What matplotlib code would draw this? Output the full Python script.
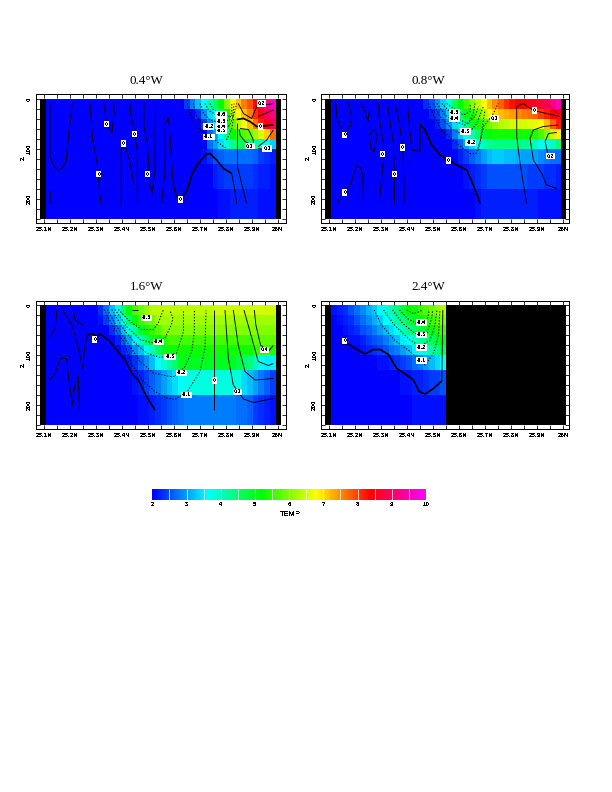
import numpy as np
import matplotlib
matplotlib.use('Agg')
import matplotlib.pyplot as plt
from matplotlib.colors import LinearSegmentedColormap, Normalize

plt.rcParams['text.antialiased'] = False
plt.rcParams['font.family'] = ['Liberation Sans', 'DejaVu Sans']

# cell edges
lat_edges = [25.086, 25.108, 25.130, 25.152, 25.174, 25.197, 25.219, 25.241, 25.263, 25.285,
             25.307, 25.329, 25.351, 25.373, 25.395, 25.417, 25.440, 25.462, 25.484, 25.506,
             25.528, 25.550, 25.572, 25.594, 25.616, 25.639, 25.661, 25.683, 25.705, 25.727,
             25.749, 25.771, 25.793, 25.815, 25.838, 25.860, 25.882, 25.904, 25.926, 25.948,
             25.970, 25.993, 26.012]
depth_edges = [0, 20, 40, 60, 80, 100, 130, 180, 240]

# temperature, one list per depth layer, 40 cells south to north
temp_04 = [
    [2.0]*24 + [2.4, 2.8, 3.2, 3.6, 4.1, 4.6, 5.2, 6.0, 6.8, 7.2, 7.6, 7.9, 8.4, 8.8, 9.2, 9.6],
    [2.0]*26 + [2.3, 2.9, 3.4, 3.9, 4.5, 5.2, 6.4, 6.8, 7.2, 7.6, 8.1, 8.5, 8.9, 9.2],
    [2.0]*27 + [2.4, 2.9, 3.4, 4.2, 5.0, 5.8, 6.4, 6.8, 7.2, 7.7, 8.2, 8.6, 8.9],
    [2.0]*28 + [2.6, 3.0, 3.6, 4.3, 5.2, 5.5, 5.7, 5.9, 6.2, 6.6, 7.1, 7.7],
    [2.0]*28 + [2.7, 3.0, 3.4, 3.9, 4.3, 4.6, 4.7, 4.5, 4.2, 4.0, 3.6, 3.3],
    [2.0]*27 + [2.1, 2.3, 2.5, 2.6, 2.7, 2.7, 2.7, 2.7, 2.7, 2.6, 2.4, 2.3, 2.2],
    [2.0]*29 + [2.2, 2.3, 2.4, 2.4, 2.4, 2.4, 2.4, 2.3, 2.2, 2.2, 2.1],
    [2.0]*30 + [2.1, 2.1, 2.2, 2.2, 2.2, 2.2, 2.2, 2.1, 2.1, 2.1],
]
temp_08 = [
    [2.0]*16 + [2.3, 2.5, 2.9, 3.3, 3.8, 4.6, 5.2, 5.6, 6.0, 6.4, 6.8, 7.2, 7.5, 7.8, 8.1, 8.3, 8.4, 8.4, 8.5, 8.6, 8.7, 8.9, 9.2, 9.5],
    [2.0]*17 + [2.2, 2.4, 2.8, 3.3, 3.8, 4.5, 5.1, 5.4, 5.8, 6.3, 6.7, 7.0, 7.2, 7.3, 7.4, 7.5, 7.6, 7.7, 7.8, 8.0, 8.2, 8.4, 8.6],
    [2.0]*18 + [2.2, 2.5, 2.9, 3.4, 3.9, 4.4, 5.0, 5.3, 5.6, 5.9, 6.1, 6.3, 6.4, 6.5, 6.5, 6.5, 6.6, 6.7, 6.8, 7.2, 7.8, 8.2],
    [2.0]*20 + [2.3, 2.8, 3.3, 3.7, 4.1, 4.6, 5.0, 5.2, 5.3, 5.3, 5.3, 5.3, 5.3, 5.3, 5.3, 5.4, 5.6, 6.0, 6.5, 6.9],
    [2.0]*21 + [2.3, 2.6, 3.0, 3.4, 3.7, 4.1, 4.3, 4.4, 4.4, 4.4, 4.4, 4.4, 4.3, 4.2, 4.0, 3.7, 3.8, 4.0, 4.4],
    [2.0]*22 + [2.2, 2.4, 2.6, 2.8, 3.0, 3.2, 3.3, 3.3, 3.2, 3.2, 3.1, 3.0, 3.0, 3.0, 2.9, 2.8, 2.7, 2.7],
    [2.0]*23 + [2.1, 2.2, 2.3, 2.4, 2.5, 2.5, 2.5, 2.5, 2.5, 2.5, 2.5, 2.4, 2.4, 2.4, 2.3, 2.3, 2.2],
    [2.0]*25 + [2.1, 2.2, 2.2, 2.2, 2.2, 2.2, 2.2, 2.2, 2.2, 2.2, 2.2, 2.1, 2.1, 2.1, 2.1],
]
temp_16 = [
    [2.0]*9 + [2.3, 2.7, 3.2, 3.8, 4.5, 5.2, 5.6, 5.9, 6.1] + [6.4]*11 + [6.5]*11,
    [2.0]*9 + [2.1, 2.4, 2.8, 3.3, 3.9, 4.5, 5.1, 5.5, 5.8, 5.9] + [6.2]*21,
    [2.0]*11 + [2.3, 2.7, 3.2, 3.8, 4.3, 4.9, 5.3, 5.5, 5.7] + [6.0]*20,
    [2.0]*12 + [2.2, 2.6, 3.0, 3.5, 4.0, 4.5, 5.0, 5.2, 5.4] + [5.6]*15 + [5.8]*4,
    [2.0]*13 + [2.2, 2.4, 2.9, 3.2, 3.7, 4.1, 4.6, 5.0] + [5.3]*15 + [5.5, 5.5, 5.5, 5.4],
    [2.0]*14 + [2.1, 2.3, 2.6, 2.9, 3.2, 3.6, 3.9, 4.2, 4.5] + [5.0]*10 + [4.8, 4.6, 4.4, 4.0, 3.7, 3.5, 3.5],
    [2.0]*15 + [2.1, 2.2, 2.4, 2.6, 2.8, 3.0, 3.2, 3.4, 3.6, 3.7] + [3.8]*9 + [3.4, 3.2, 3.0, 2.8, 2.6, 2.4],
    [2.0]*16 + [2.1, 2.1, 2.2, 2.3, 2.4, 2.5, 2.6, 2.7] + [2.8]*9 + [2.7, 2.7, 2.6, 2.4, 2.3, 2.2, 2.1],
]
land = [np.nan]*20
temp_24 = [
    [2.1, 2.2, 2.3, 2.5, 2.7, 2.9, 3.1, 3.3, 3.6, 3.9, 4.1, 4.4, 4.8, 5.2, 5.3, 5.5, 5.7, 5.9, 6.1, 6.3] + land,
    [2.0, 2.1, 2.2, 2.3, 2.5, 2.7, 2.9, 3.1, 3.3, 3.6, 3.8, 4.1, 4.4, 4.7, 5.0, 5.2, 5.4, 5.6, 5.8, 6.0] + land,
    [2.0, 2.0, 2.1, 2.2, 2.3, 2.5, 2.6, 2.8, 3.0, 3.2, 3.4, 3.7, 4.0, 4.3, 4.5, 4.8, 5.0, 5.2, 5.4, 5.6] + land,
    [2.0, 2.0, 2.0, 2.1, 2.1, 2.2, 2.4, 2.5, 2.6, 2.8, 3.0, 3.2, 3.5, 3.7, 4.0, 4.2, 4.4, 4.7, 4.9, 5.2] + land,
    [2.0]*5 + [2.1, 2.2, 2.3, 2.4, 2.5, 2.7, 2.8, 3.0, 3.2, 3.5, 3.7, 3.9, 4.2, 4.4, 4.6] + land,
    [2.0]*8 + [2.1, 2.1, 2.2, 2.3, 2.4, 2.5, 2.7, 2.8, 3.0, 3.2, 3.4, 3.6] + land,
    [2.0]*12 + [2.1, 2.1, 2.2, 2.2, 2.3, 2.4, 2.4, 2.5] + land,
    [2.0]*14 + [2.1]*6 + land,
]

# velocity contours: (style, latitudes, depths)
lines_04 = [
    ('thin', [25.123, 25.123, 25.136, 25.149, 25.168, 25.185, 25.194, 25.209], [9, 115, 132, 142, 139, 125, 75, 9]),
    ('thin', [25.123, 25.127], [185, 209]),
    ('thin', [25.277, 25.287, 25.305, 25.318], [9, 82, 129, 209]),
    ('thin', [25.331, 25.341, 25.361, 25.370, 25.370], [11, 49, 69, 29, 9]),
    ('thin', [25.397, 25.397, 25.412, 25.429, 25.441, 25.447], [209, 102, 92, 122, 155, 172]),
    ('thin', [25.459, 25.459, 25.450, 25.434, 25.431], [209, 102, 69, 29, 9]),
    ('thin', [25.485, 25.485, 25.498, 25.508, 25.516, 25.527, 25.529], [9, 55, 89, 169, 190, 142, 9]),
    ('thin', [25.553, 25.566, 25.567, 25.580, 25.585, 25.598], [209, 142, 49, 37, 75, 175]),
    ('thick', [25.598, 25.611, 25.626, 25.649, 25.671, 25.694, 25.726, 25.739, 25.765, 25.791, 25.823], [175, 194, 199, 185, 149, 129, 110, 109, 122, 139, 149]),
    ('thin', [25.823, 25.832, 25.842], [149, 175, 209]),
    ('thin', [25.845, 25.845, 25.861, 25.880], [49, 135, 169, 209]),
    ('dash', [25.652, 25.669, 25.701, 25.739, 25.791, 25.803], [9, 39, 62, 75, 95, 99]),
    ('dash', [25.675, 25.688, 25.720, 25.752], [9, 35, 52, 57]),
    ('dash', [25.701, 25.714, 25.739, 25.762], [9, 29, 42, 45]),
    ('dash', [25.720, 25.733, 25.759], [9, 22, 31]),
    ('dash', [25.739, 25.752, 25.762], [9, 21, 23]),
    ('dash', [25.791, 25.810, 25.827, 25.832], [29, 35, 32, 9]),
    ('dash', [25.791, 25.814, 25.823, 25.823], [45, 42, 25, 9]),
    ('dash', [25.791, 25.816, 25.832, 25.842], [62, 52, 29, 9]),
    ('dash', [25.803, 25.823, 25.829, 25.827], [82, 59, 42, 32]),
    ('thin', [25.848, 25.868, 25.900, 25.919, 25.983], [9, 29, 39, 15, 9]),
    ('thick', [25.842, 25.868, 25.893, 25.919, 25.983], [41, 39, 45, 55, 52]),
    ('thin', [25.855, 25.887, 25.904, 25.910, 25.874, 25.855, 25.852], [59, 61, 79, 95, 85, 72, 61]),
    ('thin', [25.925, 25.958, 25.983], [95, 82, 62]),
    ('thin', [25.925, 25.983], [99, 104]),
    ('thin', [25.925, 25.983], [35, 22]),
]
lines_08 = [
    ('thin', [25.127, 25.129, 25.148, 25.161, 25.181, 25.187, 25.174], [9, 35, 62, 70, 55, 35, 9]),
    ('thin', [25.132, 25.142, 25.161, 25.181, 25.204, 25.219, 25.229, 25.232], [209, 195, 182, 175, 135, 137, 149, 209]),
    ('thin', [25.222, 25.238, 25.249, 25.255], [9, 25, 45, 22]),
    ('thin', [25.264, 25.255, 25.260, 25.273, 25.286, 25.277, 25.264], [62, 75, 99, 105, 75, 62, 62]),
    ('thin', [25.290, 25.292, 25.309, 25.309, 25.292], [9, 35, 89, 122, 209]),
    ('thin', [25.354, 25.368, 25.383, 25.388, 25.388], [9, 42, 95, 175, 209]),
    ('thin', [25.324, 25.347, 25.351, 25.351], [9, 89, 149, 209]),
    ('thin', [25.401, 25.411, 25.418, 25.450, 25.450], [9, 69, 102, 105, 49]),
    ('thick', [25.447, 25.469, 25.494, 25.526, 25.558, 25.590, 25.629, 25.654, 25.680], [49, 62, 92, 112, 122, 132, 142, 172, 209]),
    ('dash', [25.482, 25.501, 25.533, 25.590, 25.642, 25.665, 25.680, 25.699], [9, 32, 62, 89, 109, 109, 85, 22]),
    ('dash', [25.501, 25.526, 25.571, 25.603, 25.642, 25.667, 25.693], [9, 35, 59, 69, 65, 49, 15]),
    ('dash', [25.514, 25.546, 25.584, 25.622, 25.661, 25.674], [9, 32, 45, 52, 35, 15]),
    ('dash', [25.533, 25.558, 25.590, 25.635, 25.654, 25.661], [9, 22, 39, 49, 29, 9]),
    ('dash', [25.552, 25.578, 25.616, 25.642, 25.642], [9, 19, 32, 25, 9]),
    ('dash', [25.674, 25.693, 25.725, 25.750], [102, 55, 35, 9]),
    ('thin', [25.859, 25.834, 25.821, 25.821, 25.846, 25.885, 25.987], [209, 129, 75, 15, 9, 23, 35]),
    ('dash', [25.936, 25.981], [9, 30]),
    ('thin', [25.872, 25.885, 25.923, 25.981], [79, 62, 55, 52]),
    ('thin', [25.872, 25.885, 25.917, 25.936, 25.975], [79, 122, 149, 172, 179]),
    ('thin', [25.930, 25.943, 25.975], [85, 69, 67]),
    ('thin', [25.930, 25.943], [85, 115]),
]
lines_16 = [
    ('thin', [25.121, 25.143, 25.149], [65, 47, 10]),
    ('thin', [25.121, 25.143, 25.162, 25.187, 25.200, 25.209, 25.222, 25.232, 25.236], [150, 137, 107, 107, 167, 201, 147, 143, 210]),
    ('thin', [25.172, 25.207, 25.226, 25.249, 25.258, 25.267], [10, 40, 73, 127, 80, 60]),
    ('thick', [25.267, 25.284, 25.300, 25.316, 25.348, 25.380, 25.412, 25.438, 25.463, 25.495, 25.527], [60, 57, 63, 58, 70, 90, 110, 137, 150, 183, 210]),
    ('thin', [25.213, 25.219, 25.249], [10, 30, 40]),
    ('dash', [25.331, 25.361, 25.406, 25.438, 25.483, 25.527, 25.572, 25.604, 25.652, 25.701, 25.720, 25.724], [9, 39, 73, 119, 153, 173, 186, 189, 173, 133, 86, 11]),
    ('dash', [25.344, 25.380, 25.418, 25.470, 25.521, 25.585, 25.604, 25.643, 25.669, 25.679, 25.679], [9, 43, 73, 113, 136, 143, 143, 123, 93, 53, 11]),
    ('dash', [25.361, 25.399, 25.444, 25.495, 25.547, 25.611, 25.637, 25.637], [9, 43, 73, 96, 105, 96, 53, 11]),
    ('dash', [25.373, 25.418, 25.470, 25.521, 25.527, 25.566, 25.591, 25.596, 25.585], [9, 43, 69, 76, 76, 66, 39, 26, 11]),
    ('dash', [25.386, 25.431, 25.476, 25.521, 25.540, 25.560], [9, 33, 49, 49, 36, 9]),
    ('thin', [25.438, 25.463], [11, 11]),
    ('thin', [25.756, 25.756], [11, 210]),
    ('thin', [25.797, 25.810, 25.829, 25.868, 25.906, 25.983], [10, 107, 160, 188, 195, 187]),
    ('thin', [25.829, 25.848, 25.874, 25.913, 25.983], [10, 80, 133, 150, 147]),
    ('thin', [25.870, 25.904, 25.925, 25.964, 25.983], [10, 73, 113, 121, 117]),
    ('thin', [25.910, 25.916, 25.934, 25.964, 25.983], [10, 40, 80, 93, 81]),
]
lines_24 = [
    ('thin', [25.117, 25.149], [77, 77]),
    ('thick', [25.149, 25.174, 25.200, 25.238, 25.270, 25.296, 25.328, 25.360, 25.398, 25.424, 25.446, 25.469, 25.501, 25.533], [77, 78, 87, 98, 89, 89, 99, 127, 140, 150, 173, 178, 167, 152]),
    ('thin', [25.533, 25.537], [152, 10]),
    ('dash', [25.273, 25.301, 25.351, 25.411, 25.469, 25.501, 25.520, 25.526], [10, 40, 70, 93, 120, 97, 60, 10]),
    ('dash', [25.309, 25.351, 25.411, 25.450, 25.488, 25.507, 25.514], [10, 40, 70, 83, 70, 40, 10]),
    ('dash', [25.344, 25.383, 25.430, 25.475, 25.494, 25.498], [10, 37, 57, 57, 27, 10]),
    ('dash', [25.370, 25.401, 25.437, 25.469, 25.481, 25.484], [10, 27, 37, 37, 23, 10]),
    ('dash', [25.398, 25.424, 25.450, 25.456], [10, 17, 13, 10]),
]

# contour labels: (text, lat, depth)
labels_04 = [('0', 25.341, 50), ('0', 25.447, 70), ('0', 25.406, 89), ('0', 25.311, 150), ('0', 25.498, 150),
             ('0', 25.626, 201), ('0', 25.934, 55), ('-0.1', 25.735, 76), ('-0.2', 25.735, 55), ('-0.3', 25.782, 63),
             ('-0.4', 25.782, 54), ('-0.5', 25.782, 45), ('-0.6', 25.782, 31), ('0.1', 25.893, 94), ('0.1', 25.959, 99),
             ('0.2', 25.938, 9)]
labels_08 = [('0', 25.161, 72), ('0', 25.161, 187), ('0', 25.305, 110), ('0', 25.382, 97), ('0', 25.351, 150),
             ('0', 25.558, 123), ('0', 25.889, 23), ('-0.5', 25.581, 27), ('-0.4', 25.581, 39), ('-0.3', 25.625, 65),
             ('-0.2', 25.645, 87), ('0.1', 25.735, 39), ('0.2', 25.951, 114)]
labels_16 = [('0', 25.296, 69), ('0', 25.756, 151), ('-0.5', 25.495, 26), ('-0.4', 25.540, 74), ('-0.3', 25.585, 104),
             ('-0.2', 25.628, 136), ('-0.1', 25.649, 180), ('0.1', 25.846, 174), ('0.4', 25.949, 90)]
labels_24 = [('0', 25.161, 72), ('-0.4', 25.456, 35), ('-0.3', 25.456, 60), ('-0.2', 25.456, 85), ('-0.1', 25.456, 111)]

titles = ['0.4°W', '0.8°W', '1.6°W', '2.4°W']
xticks_major = [25.1, 25.2, 25.3, 25.4, 25.5, 25.6, 25.7, 25.8, 25.9, 26.0]
xtick_labels = ['25.1N', '25.2N', '25.3N', '25.4N', '25.5N', '25.6N', '25.7N', '25.8N', '25.9N', '26N']
xticks_minor = [25.15, 25.25, 25.35, 25.45, 25.55, 25.65, 25.75, 25.85, 25.95]
yticks_major = [0, 100, 200]
yticks_minor = [20, 40, 60, 80, 120, 140, 160, 180, 220, 240]
cbar_labels = [2, 3, 4, 5, 6, 7, 8, 9, 10]
cbar_breaks = [2.5, 3, 3.5, 4, 4.5, 5, 5.5, 6, 6.5, 7, 7.5, 8, 8.5, 9, 9.5]

W, H = 612.0, 792.0
cmap = LinearSegmentedColormap.from_list('rnb', ['#0000ff', '#00ffff', '#00ff00', '#ffff00', '#ff0000', '#ff00ff'], N=256)
cmap.set_bad('black')
norm = Normalize(2, 10)


def px_axes(fig, x0, y0, x1, y1):
    return fig.add_axes([x0/W, 1 - y1/H, (x1 - x0)/W, (y1 - y0)/H])


fig = plt.figure(figsize=(8.5, 11), dpi=72)

boxes = [(36, 94, 286, 223), (321.3, 94, 569.3, 223), (36, 301, 286, 429), (321.3, 301, 569.3, 429)]
xlims = [(25.069, 26.032), (25.070, 26.023), (25.069, 26.032), (25.070, 26.023)]
ylims = [(248, -10), (248, -10), (248, -8), (248, -8)]
title_pos = [(146.7, 80.7), (428, 80.7), (146.7, 286.7), (428, 286.7)]
temps = [temp_04, temp_08, temp_16, temp_24]
lines = [lines_04, lines_08, lines_16, lines_24]
labels = [labels_04, labels_08, labels_16, labels_24]
styles = {'thin': dict(lw=0.9, ls='-'), 'thick': dict(lw=1.7, ls='-'), 'dash': dict(lw=1.0, ls=(0, (1.3, 1.7)))}

for i in range(4):
    ax = px_axes(fig, *boxes[i])
    # land columns at both ends are black
    t = np.ma.masked_invalid(np.array(temps[i]))
    grid = np.ma.masked_all((8, 42))
    grid[:, 1:41] = t
    ax.pcolormesh(lat_edges, depth_edges, grid, cmap=cmap, norm=norm, shading='flat')

    for kind, la, de in lines[i]:
        ax.plot(la, de, color='k', antialiased=True, solid_capstyle='butt', dash_capstyle='butt', **styles[kind])
    for txt, la, de in labels[i]:
        ax.text(la, de, txt, fontsize=5.2, fontweight='bold', ha='center', va='center',
                bbox=dict(fc='white', ec='none', pad=1.0), zorder=5)

    ax.set_xlim(*xlims[i])
    ax.set_ylim(*ylims[i])
    ax.set_xticks(xticks_major)
    ax.set_xticklabels(xtick_labels, fontsize=6.2, fontweight='bold')
    ax.set_xticks(xticks_minor, minor=True)
    ax.set_yticks(yticks_major)
    ax.set_yticklabels(['0', '100', '200'], fontsize=6.2, fontweight='bold', rotation=90, va='center')
    ax.set_yticks(yticks_minor, minor=True)
    ax.tick_params(which='both', direction='in', top=True, right=True, length=4, width=0.8, pad=4)
    for s in ax.spines.values():
        s.set_linewidth(1.0)
    fig.text(title_pos[i][0]/W, 1 - title_pos[i][1]/H, titles[i], family='Liberation Serif', fontsize=13,
             ha='center', va='center', antialiased=True)
    fig.text((boxes[i][0] - 13)/W, 1 - (boxes[i][1] + 64)/H, 'Z', fontsize=6.2, fontweight='bold', rotation=90,
             ha='center', va='center')

# colour key
cax = px_axes(fig, 152.3, 489, 426, 500)
cvals = np.linspace(2, 10, 330).reshape(1, -1)
cax.imshow(cvals, cmap=cmap, norm=norm, aspect='auto', extent=(2, 10, 0, 1))
cax.vlines(cbar_breaks, 0, 1, color='white', lw=0.7)
cax.set_yticks([])
cax.set_xticks(cbar_labels)
cax.set_xticklabels([str(v) for v in cbar_labels], fontsize=6.2, fontweight='bold')
cax.tick_params(length=0, pad=2)
for s in cax.spines.values():
    s.set_visible(False)
fig.text(290/W, 1 - 514/H, 'TEMP', fontsize=7.5, ha='center', va='center')

fig.savefig('out.png', dpi=72)
